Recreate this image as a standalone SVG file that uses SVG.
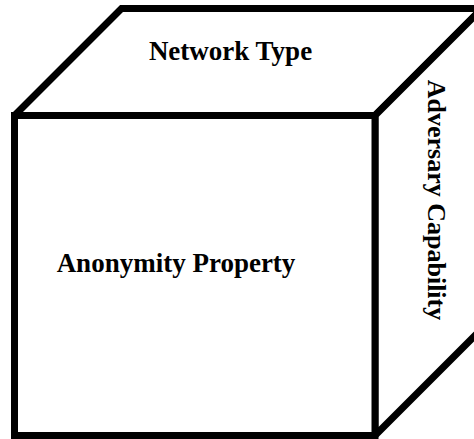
<svg xmlns="http://www.w3.org/2000/svg" width="474" height="439" viewBox="0 0 474 439">
<style>
.face{fill:#fff;stroke:#000;stroke-width:7;stroke-linejoin:miter;stroke-miterlimit:2}
.lbl{font-family:"Liberation Serif","Times New Roman",serif;font-weight:bold;font-size:27px;fill:#000}
</style>
<rect width="474" height="439" fill="#fff"/>
<g id="top-face">
<polygon class="face" points="14.5,115.5 121.5,8.5 482,8.5 375,115.5"/>
<text class="lbl" x="230.5" y="60" text-anchor="middle">Network Type</text>
</g>
<g id="side-face">
<polygon class="face" points="375,115.5 482,8.5 482,328.5 375,435.5"/>
<text class="lbl" style="font-size:26px" transform="translate(428,200) rotate(90)" text-anchor="middle">Adversary Capability</text>
</g>
<g id="front-face">
<rect class="face" x="14.5" y="115.5" width="360.5" height="320" style="stroke-miterlimit:4"/>
<text class="lbl" x="176" y="272" text-anchor="middle">Anonymity Property</text>
</g>
</svg>
